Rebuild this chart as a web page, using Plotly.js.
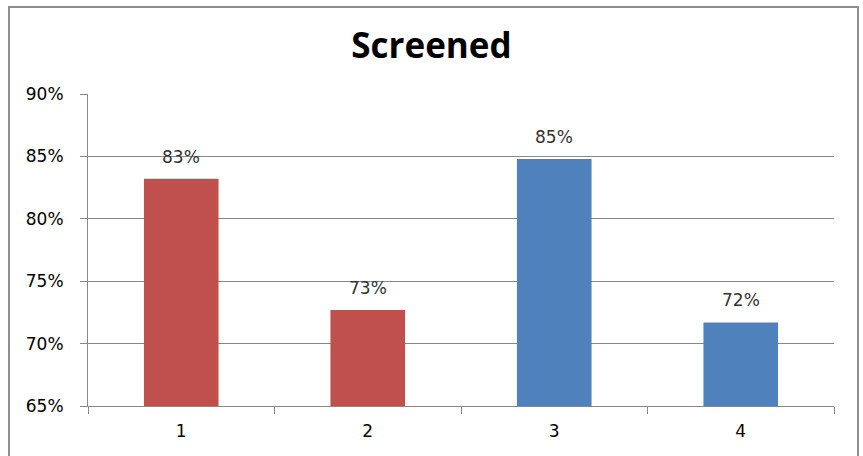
<!DOCTYPE html>
<html>
<head>
<meta charset="utf-8">
<script src="https://cdn.plot.ly/plotly-3.0.1.min.js"></script>
<style>
  html, body { margin: 0; padding: 0; background: #fff; }
  #wrap { position: relative; width: 863px; height: 456px; overflow: hidden; }
  #chart { position: absolute; left: 0; top: 0; width: 863px; height: 456px; }
  #frame { position: absolute; left: 8px; top: 6px; width: 847px; height: 470px;
           border: 2px solid #8e8e8e; pointer-events: none; }
</style>
</head>
<body>
<div id="wrap">
  <div id="chart"></div>
  <div id="frame"></div>
</div>
<script>
// Data
const categories = ['1', '2', '3', '4'];
const values = [0.832, 0.727, 0.848, 0.717];
const labels = ['83%', '73%', '85%', '72%'];
const barColors = ['#C0504D', '#C0504D', '#4F81BD', '#4F81BD'];
const yTickVals = [0.65, 0.70, 0.75, 0.80, 0.85, 0.90];
const yTickText = ['65%', '70%', '75%', '80%', '85%', '90%'];

const labelFont = { family: 'DejaVu Sans', size: 17, color: '#333333' };

const trace = {
  type: 'bar',
  x: categories,
  y: values,
  base: 0,
  width: 0.4,
  marker: { color: barColors, line: { width: 0 } },
  cliponaxis: false,
  hoverinfo: 'none'
};

// category axis positions are the category indices
const annotations = categories.map((c, i) => ({
  x: i,
  y: values[i],
  xref: 'x',
  yref: 'y',
  text: labels[i],
  showarrow: false,
  yanchor: 'bottom',
  yshift: 10,
  font: labelFont
}));

const layout = {
  width: 863,
  height: 456,
  margin: { l: 88, r: 29, t: 94, b: 50 },
  paper_bgcolor: '#ffffff',
  plot_bgcolor: '#ffffff',
  showlegend: false,
  annotations: annotations,
  title: {
    text: '<b>Screened</b>',
    font: { family: 'Open Sans', size: 35, color: '#000000' },
    x: 0.5, xanchor: 'center',
    yref: 'container', y: 1 - 46 / 456, yanchor: 'middle'
  },
  xaxis: {
    type: 'category',
    categoryorder: 'array',
    categoryarray: categories,
    showgrid: false,
    showline: true,
    linecolor: '#888888',
    linewidth: 1,
    ticks: 'outside',
    tickson: 'boundaries',
    ticklen: 7,
    tickcolor: '#888888',
    ticklabelstandoff: 10,
    tickfont: { family: 'DejaVu Sans', size: 17, color: '#000000' },
    zeroline: false
  },
  yaxis: {
    range: [0.65, 0.90],
    tickvals: yTickVals,
    ticktext: yTickText,
    showgrid: true,
    gridcolor: '#888888',
    gridwidth: 1,
    showline: true,
    linecolor: '#888888',
    linewidth: 1,
    ticks: 'outside',
    ticklen: 7,
    tickcolor: '#888888',
    ticklabelstandoff: 13,
    tickfont: { family: 'DejaVu Sans', size: 17, color: '#000000' },
    zeroline: false
  }
};

Plotly.newPlot('chart', [trace], layout, { staticPlot: true, displayModeBar: false });
</script>
</body>
</html>
